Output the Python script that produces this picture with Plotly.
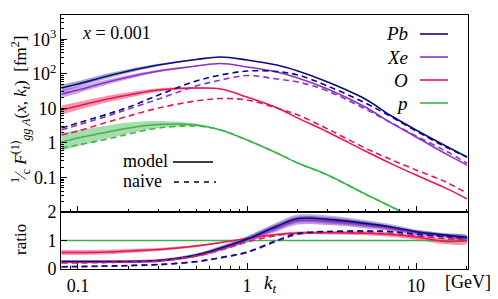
import plotly.graph_objects as go

# ---------------- data ----------------
kt = [0.08, 0.1, 0.15, 0.2, 0.3, 0.5, 0.7, 1, 1.5, 2, 3, 5, 7, 10, 15, 20]

pb_model = [38.7, 50.5, 86, 120, 179, 258, 305, 250, 179, 120, 57.7, 18.6, 6.4, 2.36, 0.81, 0.39]
xe_model = [25.9, 33.9, 57.7, 80.5, 120, 167, 198, 157, 112, 75, 36, 10.9, 4.0, 1.48, 0.48, 0.23]
o_model = [8.9, 11.7, 18.6, 24.3, 33.9, 38.7, 36.2, 21.2, 10.4, 5.2, 2.07, 0.58, 0.26, 0.117, 0.049, 0.024]
p_model = [1.06, 1.38, 2.07, 2.69, 3.40, 3.29, 2.36, 1.21, 0.51, 0.26, 0.117, 0.033, 0.0149, 0.0063, 0.0023, 0.0011]

pb_naive = [2.69, 3.76, 6.85, 10.9, 24.3, 61.7, 92, 120, 116, 92, 44.2, 14.3, 6.0, 2.21, 0.76, 0.39]
xe_naive = [2.36, 3.29, 6.0, 9.55, 18.6, 44.2, 65.9, 89, 70.5, 57.7, 31.7, 9.55, 4.0, 1.58, 0.58, 0.26]
o_naive = [1.69, 2.21, 4.0, 6.0, 10.2, 16.3, 19.2, 17.4, 10.2, 6.4, 2.52, 0.71, 0.34, 0.164, 0.074, 0.035]
p_naive = [0.71, 0.87, 1.29, 1.81, 2.69, 3.08, 2.36, 1.21, 0.51, 0.26, 0.117, 0.033, 0.0149, 0.0063, 0.0023, 0.0011]

# multiplicative uncertainty factors of the model bands
pb_band = [1.26, 1.22, 1.18, 1.14, 1.08, 1.03, 1, 1, 1, 1, 1, 1, 1, 1, 1, 1]
xe_band = [1.28, 1.24, 1.19, 1.15, 1.09, 1.03, 1, 1, 1, 1, 1, 1, 1, 1, 1, 1]
o_band = [1.35, 1.31, 1.25, 1.20, 1.13, 1.05, 1.01, 1, 1, 1, 1, 1, 1, 1, 1, 1]
p_band = [1.82, 1.70, 1.54, 1.44, 1.26, 1.10, 1.03, 1, 1, 1, 1, 1, 1, 1, 1, 1]

# ratio panel
pb_ratio = [0.263, 0.263, 0.263, 0.265, 0.298, 0.49, 0.737, 1.053, 1.50, 1.77, 1.74, 1.60, 1.48, 1.31, 1.19, 1.11]
xe_ratio = [0.25, 0.25, 0.25, 0.255, 0.29, 0.47, 0.71, 1.03, 1.45, 1.70, 1.68, 1.55, 1.43, 1.28, 1.17, 1.09]
o_ratio = [0.579, 0.579, 0.596, 0.632, 0.684, 0.807, 0.93, 1.07, 1.21, 1.263, 1.274, 1.253, 1.21, 1.12, 0.97, 0.99]
p_ratio = [1.0] * 16
pb_naive_ratio = [0.081, 0.088, 0.105, 0.123, 0.158, 0.263, 0.404, 0.596, 1.0, 1.246, 1.316, 1.333, 1.316, 1.228, 1.14, 1.088]
xe_naive_ratio = [0.075, 0.082, 0.098, 0.115, 0.15, 0.25, 0.39, 0.58, 0.97, 1.22, 1.30, 1.32, 1.30, 1.21, 1.13, 1.08]
o_naive_ratio = [0.211, 0.211, 0.228, 0.246, 0.281, 0.456, 0.667, 0.947, 1.175, 1.246, 1.281, 1.263, 1.228, 1.158, 1.07, 1.018]
pb_ratio_band = [0.05, 0.05, 0.05, 0.05, 0.05, 0.06, 0.08, 0.10, 0.13, 0.14, 0.14, 0.12, 0.10, 0.08, 0.07, 0.07]
o_ratio_band = [0.09, 0.09, 0.08, 0.07, 0.05, 0.04, 0.03, 0.03, 0.04, 0.05, 0.06, 0.07, 0.08, 0.09, 0.10, 0.10]

nuclei = ["Pb", "Xe", "O", "p"]
x_ticks = [0.1, 1, 10]
x_ticktext = ["0.1", "1", "10"]
y_ticks = [0.1, 1, 10, 100, 1000]
y_ticktext = ["0.1", "1", "10", "10<sup>2</sup>", "10<sup>3</sup>"]
r_ticks = [0, 1, 2]
r_ticktext = ["0", "1", "2"]

# ---------------- style ----------------
C_PB = "#0b0b80"
C_XE = "#9030c8"
C_O = "#e8174f"
C_P = "#3cb44b"
FONT = "Liberation Serif"
OFF = 8  # page body margin
W, H = 498 - OFF, 299 - OFF
ML, MR, MT, MB = 61 - OFF, 30, 15 - OFF, 30
PW, PH = W - ML - MR, H - MT - MB
SPLIT = (269 - 212) / PH


def rgba(hexc, a):
    h = hexc.lstrip("#")
    return "rgba(%d,%d,%d,%.2f)" % (int(h[0:2], 16), int(h[2:4], 16), int(h[4:6], 16), a)


def pxx(x):  # window pixel -> paper coordinate
    return (x - OFF - ML) / PW


def pxy(y):
    return (H - MB - (y - OFF)) / PH


fig = go.Figure()


def band_mult(vals, fac, color, alpha, xa, ya):
    hi = [v * f for v, f in zip(vals, fac)]
    lo = [v / f for v, f in zip(vals, fac)]
    fig.add_trace(go.Scatter(x=kt + kt[::-1], y=hi + lo[::-1], fill="toself",
                             fillcolor=rgba(color, alpha), line=dict(width=0),
                             mode="lines", hoverinfo="skip", showlegend=False,
                             xaxis=xa, yaxis=ya, line_shape="spline"))


def band_add(vals, hw, color, alpha, xa, ya):
    hi = [v + d for v, d in zip(vals, hw)]
    lo = [v - d for v, d in zip(vals, hw)]
    fig.add_trace(go.Scatter(x=kt + kt[::-1], y=hi + lo[::-1], fill="toself",
                             fillcolor=rgba(color, alpha), line=dict(width=0),
                             mode="lines", hoverinfo="skip", showlegend=False,
                             xaxis=xa, yaxis=ya, line_shape="spline"))


def line(vals, color, dash, xa, ya, width=1.6):
    fig.add_trace(go.Scatter(x=kt, y=vals, mode="lines",
                             line=dict(color=color, width=width, dash=dash, shape="spline"),
                             showlegend=False, hoverinfo="skip", xaxis=xa, yaxis=ya))


DASH = "6px,4px"
band_mult(p_model, p_band, C_P, 0.45, "x", "y")
band_mult(o_model, o_band, C_O, 0.45, "x", "y")
band_mult(xe_model, xe_band, C_XE, 0.45, "x", "y")
band_mult(pb_model, pb_band, C_PB, 0.35, "x", "y")
for vals, c in [(p_model, C_P), (o_model, C_O), (xe_model, C_XE), (pb_model, C_PB)]:
    line(vals, c, "solid", "x", "y")
for vals, c in [(p_naive, C_P), (o_naive, C_O), (xe_naive, C_XE), (pb_naive, C_PB)]:
    line(vals, c, DASH, "x", "y")

band_add(o_ratio, o_ratio_band, C_O, 0.45, "x2", "y2")
band_add(xe_ratio, pb_ratio_band, C_XE, 0.5, "x2", "y2")
band_add(pb_ratio, pb_ratio_band, C_PB, 0.3, "x2", "y2")
line(p_ratio, C_P, "solid", "x2", "y2", 1.4)
line(o_ratio, C_O, "solid", "x2", "y2")
line(xe_ratio, C_XE, "solid", "x2", "y2")
line(pb_ratio, C_PB, "solid", "x2", "y2")
line(o_naive_ratio, C_O, DASH, "x2", "y2")
line(xe_naive_ratio, C_XE, DASH, "x2", "y2")
line(pb_naive_ratio, C_PB, DASH, "x2", "y2")

x_minor = [0.08, 0.09] + [m * 0.1 for m in range(2, 10)] + list(range(2, 10)) + [20]
y_minor = [m * 10 ** e for e in range(-2, 4) for m in range(2, 10)]

ax_common = dict(showline=True, linecolor="black", linewidth=1, mirror=True, automargin=False,
                 ticks="inside", tickcolor="black", showgrid=False, zeroline=False)

fig.update_layout(
    template="none",
    width=W, height=H, plot_bgcolor="white", paper_bgcolor="white",
    margin=dict(l=ML, r=MR, t=MT, b=MB), showlegend=False,
    font=dict(family=FONT, size=18, color="black"),
    xaxis=dict(type="log", range=[-1.1, 1.307], domain=[0, 1], anchor="y",
               tickvals=x_ticks, ticktext=x_ticktext, showticklabels=False, ticklen=6,
               minor=dict(ticks="inside", ticklen=3, tickcolor="black", tickvals=x_minor),
               **ax_common),
    yaxis=dict(type="log", range=[-2, 3.7], domain=[SPLIT, 1], anchor="x",
               tickvals=y_ticks, ticktext=y_ticktext, ticklen=6,
               minor=dict(ticks="inside", ticklen=3, tickcolor="black", tickvals=y_minor),
               tickfont=dict(family=FONT, size=18), **ax_common),
    xaxis2=dict(type="log", range=[-1.1, 1.307], domain=[0, 1], anchor="y2", matches="x",
                tickvals=x_ticks, ticktext=x_ticktext, ticklen=6,
                minor=dict(ticks="inside", ticklen=3, tickcolor="black", tickvals=x_minor),
                tickfont=dict(family=FONT, size=18), **ax_common),
    yaxis2=dict(range=[0, 2], domain=[0, SPLIT], anchor="x2",
                tickvals=r_ticks, ticktext=r_ticktext, ticklen=6,
                tickfont=dict(family=FONT, size=18), **ax_common),
)

ann = []


def text(x, y, s, size=18, xanchor="center", angle=0):
    ann.append(dict(x=pxx(x), y=pxy(y), xref="paper", yref="paper", text=s,
                    showarrow=False, xanchor=xanchor, yanchor="middle",
                    textangle=angle, font=dict(family=FONT, size=size, color="black")))


text(80, 33, "<i>x</i> = 0.001", 18, "left")
leg_y = [34, 57, 80, 103]
leg_c = [C_PB, C_XE, C_O, C_P]
shapes = []
for name, yy, c in zip(nuclei, leg_y, leg_c):
    text(410, yy, "<i>" + name + "</i>", 19, "right")
    shapes.append(dict(type="line", xref="paper", yref="paper", x0=pxx(420), x1=pxx(448),
                       y0=pxy(yy), y1=pxy(yy), line=dict(color=c, width=1.6)))
text(121, 161, "model", 18, "left")
text(121, 181, "naive", 18, "left")
shapes.append(dict(type="line", xref="paper", yref="paper", x0=pxx(173), x1=pxx(213),
                   y0=pxy(162), y1=pxy(162), line=dict(color="black", width=1.6)))
shapes.append(dict(type="line", xref="paper", yref="paper", x0=pxx(174), x1=pxx(216),
                   y0=pxy(182), y1=pxy(182), line=dict(color="black", width=1.6, dash="5px,5px")))

text(20, 110, "<sup>1</sup>⁄<sub>c</sub> <i>F</i><sup>(1)</sup><sub><i>gg A</i></sub>(<i>x</i>, <i>k<sub>t</sub></i>)  [fm<sup>2</sup>]",
     17, "center", -90)
text(20, 240, "ratio", 17, "center", -90)
text(270, 284, "<i>k<sub>t</sub></i>", 19)
text(468, 282, "[GeV]", 18)

fig.update_layout(annotations=ann, shapes=shapes)
fig.write_html("out.html")
